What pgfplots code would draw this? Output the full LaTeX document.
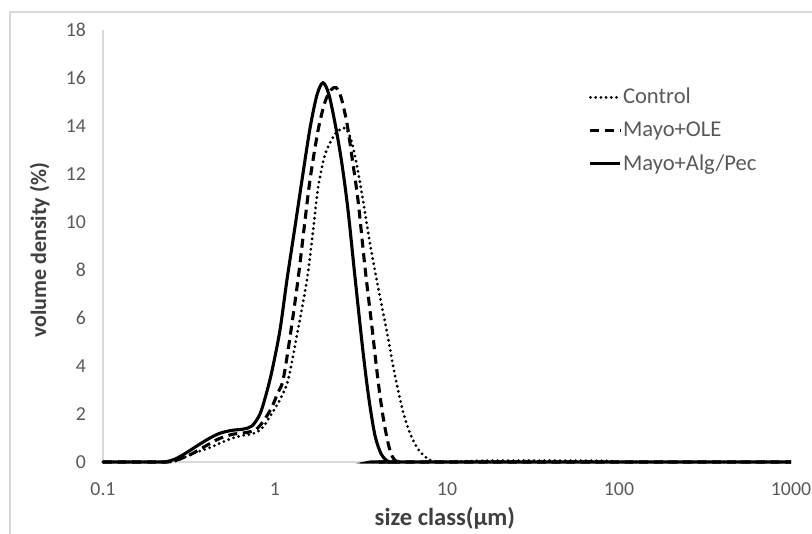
\documentclass[border=0pt]{standalone}
\usepackage{fontspec}
\setmainfont{Carlito}
\usepackage{pgfplots}
\pgfplotsset{compat=1.18}
\definecolor{axgray}{HTML}{D9D9D9}
\definecolor{txtgray}{HTML}{595959}
\definecolor{ttlgray}{HTML}{404040}

\begin{document}
\begin{tikzpicture}[x=1pt,y=1pt]
\useasboundingbox (0,0) rectangle (406,267);
% chart area border (cut by the crop at right and bottom)
\draw[axgray,line width=0.6pt] (5,0) -- (5,261) -- (406,261);
\begin{axis}[
  at={(51.5pt,36pt)},anchor=south west,
  scale only axis,width=344pt,height=216pt,
  xmode=log,log basis x=10,
  xmin=0.1,xmax=1000,ymin=0,ymax=18,
  xtick={0.1,1,10,100,1000},xticklabels={0.1,1,10,100,1000},
  ytick={0,2,...,18},
  axis x line*=bottom,axis y line*=left,
  axis line style={axgray,line width=0.75pt},
  major tick length=0pt,minor tick length=0pt,tick style={draw=none},
  ticklabel style={font=\fontsize{9.9}{11}\selectfont,text=txtgray},
  yticklabel style={xshift=-5pt},
  xticklabel style={yshift=-7pt},
  /pgf/number format/assume math mode=true,
  xlabel={\textbf{size class(\textmu m)}},
  ylabel={\textbf{volume density (\%)}},
  label style={font=\fontsize{11}{13}\selectfont,text=ttlgray},
  xlabel style={at={(axis description cs:0.497,-0.13)},anchor=center,font=\fontsize{12.3}{13}\selectfont},
  ylabel style={at={(axis description cs:-0.092,0.49)},anchor=center,rotate=0},
  clip=false,
  legend cell align=left,
  legend style={at={(rel axis cs:0.697,0.885)},anchor=north west,draw=none,fill=none,
    font=\fontsize{11.3}{12}\selectfont,text=txtgray,row sep=3.5pt,
    nodes={inner xsep=0.5pt}},
  legend image code/.code={\draw[#1] (0pt,0pt) -- (15pt,0pt);},
  every axis plot/.append style={black,line width=1.55pt,smooth,tension=0.5},
]
% Control
\addplot[black,line cap=round,dash pattern=on 0pt off 2.6pt] coordinates {
(0.1,0) (0.2,0) (0.23,0) (0.2452,0) (0.2621,0.03) (0.2918,0.17) (0.3426,0.38)
(0.4188,0.6) (0.4918,0.82) (0.5698,1.0) (0.6428,1.1) (0.7155,1.15) (0.7857,1.25)
(0.8516,1.45) (0.9352,1.9) (1.0135,2.3) (1.0692,2.6) (1.19,3.4) (1.3426,5.3)
(1.5346,7.6) (1.6631,9.6) (1.7783,11.4) (1.9527,12.8) (2.2029,13.6) (2.3878,13.85)
(2.5873,13.9) (2.8036,13.3) (3.0391,12.1) (3.249,10.9) (3.5683,9.1) (3.9719,7.3)
(4.4797,5.4) (4.9851,3.6) (5.5502,2.1) (6.0954,1.2) (6.6933,0.6) (7.2527,0.3)
(7.9651,0.08) (8.6298,0.02) (10.41,0.01) (13.61,0.03) (15.56,0.05) (30,0.06)
(77.52,0.05) (94.78,0.02) (108.4,0) (130,0) (1000,0)
};
\addlegendentry{Control}
% Mayo+OLE
\addplot[black,dash pattern=on 4.5pt off 2.8pt] coordinates {
(0.1,0) (0.2,0) (0.225,0) (0.2386,0) (0.2729,0.1) (0.3205,0.3) (0.3917,0.65)
(0.4661,0.95) (0.5623,1.15) (0.6691,1.22) (0.7753,1.35) (0.8747,1.8) (0.9607,2.3)
(1.0409,2.9) (1.113,3.4) (1.2225,5.2) (1.3608,7.6) (1.4743,9.7) (1.5976,11.75)
(1.7783,13.8) (1.9527,15.0) (2.1165,15.5) (2.2628,15.6) (2.4201,15.2) (2.6221,14.1)
(2.8036,12.7) (3.0391,10.9) (3.3375,8.1) (3.6644,5.6) (3.9719,3.4) (4.2462,1.9)
(4.54,0.8) (4.7882,0.25) (5.0521,0.04) (5.3,0) (5.6,0) (1000,0)
};
\addlegendentry{Mayo+OLE}
% Mayo+Alg/Pec
\addplot[black,solid] coordinates {
(0.1,0) (0.19,0) (0.215,0) (0.2293,0) (0.2621,0.12) (0.2997,0.35) (0.3664,0.75)
(0.4188,1.0) (0.4788,1.2) (0.5623,1.32) (0.6515,1.37) (0.735,1.5) (0.8181,2.0)
(0.8866,2.8) (0.9607,3.8) (1.0692,5.5) (1.1742,7.6) (1.3072,9.8) (1.4355,11.75)
(1.5976,13.9) (1.7548,15.3) (1.9011,15.8) (2.0606,15.3) (2.2628,13.9) (2.4526,12.4)
(2.6573,10.5) (2.9185,7.7) (3.249,4.6) (3.521,2.6) (3.815,1.1) (4.134,0.35)
(4.4797,0.05) (4.75,0) (5.0,0) (1000,0)
};
\addlegendentry{Mayo+Alg/Pec}
\end{axis}
\end{tikzpicture}
\end{document}
